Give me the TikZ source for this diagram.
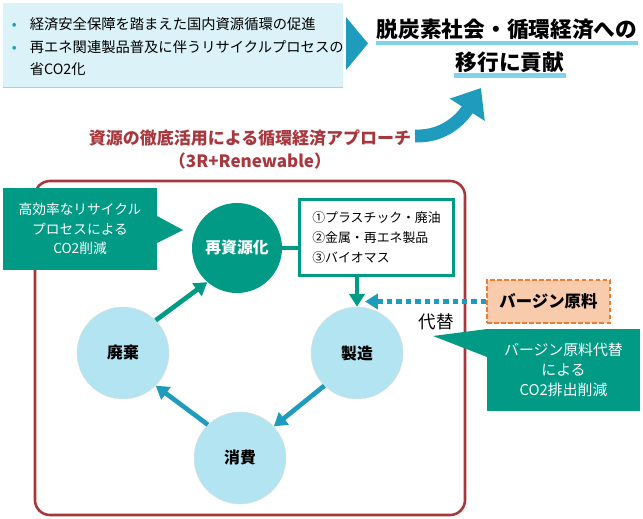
\documentclass[tikz,border=0pt]{standalone}
\usepackage{fontspec}
\setmainfont{Noto Sans CJK JP}
\usetikzlibrary{arrows.meta, positioning}
\definecolor{midori}{HTML}{009A85}
\definecolor{ao}{HTML}{1F9BBE}
\definecolor{mizu}{HTML}{B2E4F1}
\definecolor{usuao}{HTML}{DBF2F8}
\definecolor{aka}{HTML}{A8373D}
\definecolor{daidai}{HTML}{ED7D31}
\definecolor{usudaidai}{HTML}{F8CBAD}
\definecolor{sen}{HTML}{7FD4EB}

\begin{document}
\begin{tikzpicture}[x=0.03cm, y=-0.03cm,
      stage/.style={circle, fill=mizu, draw=gray!25, line width=0.4pt, minimum size=2.76cm,
                    inner sep=0pt, font=\fontsize{13.5pt}{15pt}\selectfont\bfseries},
      note/.style={fill=midori, text=white, align=center, inner sep=0pt,
                   minimum width=4.6cm, minimum height=2.46cm},
      arrow/.style={-{Triangle[length=11pt, width=13pt]}, line width=4pt},
      uline/.style={sen, line width=3.5pt} ]
    \useasboundingbox (0,0) rectangle (643,518);

    \node[fill=usuao, minimum width=10.2cm, minimum height=2.52cm] (topbox) at (173,45) {};
    \node[anchor=west, inner sep=0pt, align=left, font=\fontsize{12.2pt}{19.5pt}\selectfont]
      (topitems) at ([xshift=0.27cm, yshift=-0.05cm]topbox.west)
      {\makebox[1.25em][l]{\textcolor{ao}{•}}経済安全保障を踏まえた国内資源循環の促進\\
       \makebox[1.25em][l]{\textcolor{ao}{•}}再エネ関連製品普及に伴うリサイクルプロセスの\\
       \hspace*{1.25em}省CO2化};
    \draw[gray!45, line width=1pt] (topbox.south west) -- (topbox.south east);
    \fill[ao] (346,17) -- (368,43.5) -- (346,70) -- cycle;

    \node[font=\fontsize{18.5pt}{20pt}\selectfont\bfseries, inner sep=1pt] (goal) at (507,29) {脱炭素社会・循環経済への};
    \node[font=\fontsize{18.5pt}{20pt}\selectfont\bfseries, inner sep=1pt] (goal2) at (510,62) {移行に貢献};
    \draw[uline] ([yshift=-1.5pt]goal.south west) -- ([yshift=-1.5pt]goal.south east);
    \draw[uline] ([yshift=-1.5pt]goal2.south west) -- ([yshift=-1.5pt]goal2.south east);
    \draw[ao, line width=11pt, -{Triangle[length=22pt, width=34pt]}]
      (415,136) .. controls (445,137) and (462,118) .. (481,88);

    \node[text=aka, font=\fontsize{14.5pt}{16pt}\selectfont\bfseries] (approach) at (250,138) {資源の徹底活用による循環経済アプローチ};
    \node[text=aka, font=\fontsize{14.5pt}{16pt}\selectfont\bfseries] (approach2) at (250,161) {（3R+Renewable）};
    \node[draw=aka, line width=2.2pt, rounded corners=0.45cm, minimum width=12.9cm, minimum height=10.02cm] (frame) at (250,348) {};

    \node[note, minimum width=4.62cm, font=\fontsize{11.7pt}{16.5pt}\selectfont] (leftnote) at (80,229) {高効率なリサイクル\\プロセスによる\\CO2削減};
    \fill[midori] (157,216) -- (183,230) -- (157,243) -- cycle;

    \node[stage, fill=midori, draw=none, text=white, minimum size=2.7cm] (saishigen) at (237,248) {再資源化};
    \node[stage] (seizo) at (357,353) {製造};
    \node[stage] (haiki) at (123,353) {廃棄};
    \node[stage] (shohi) at (240,458) {消費};

    \node[draw=midori, line width=2.5pt, fill=white, minimum width=4.62cm, minimum height=2.28cm, align=left,
          font=\fontsize{11pt}{17pt}\selectfont] (sozai) at (376.5,237.5) {①プラスチック・廃油\\②金属・再エネ製品\\③バイオマス};
    \draw[midori, line width=3pt] (saishigen.east) -- (saishigen.east -| sozai.west);
    \draw[arrow, midori] (sozai.south -| seizo.north) -- (seizo.north);

    \node[draw=daidai, dash pattern=on 4pt off 2pt, fill=usudaidai, line width=1.5pt, minimum width=3.69cm,
          minimum height=1.29cm, font=\fontsize{14pt}{16pt}\selectfont\bfseries] (virgin) at (548.5,301.5) {バージン原料};
    \draw[ao, line width=4pt, dash pattern=on 4.5pt off 3.5pt, -{Triangle[length=11pt, width=13pt]}]
      (virgin.west) -- (virgin.west -| seizo.80);
    \node[font=\fontsize{15pt}{16pt}\selectfont] (daitai) at (436,322) {代替};

    \node[note, minimum width=4.59cm, font=\fontsize{12.7pt}{17pt}\selectfont] (rightnote) at (563.5,370) {バージン原料代替\\による\\CO2排出削減};
    \fill[midori] (487,329) -- (433,336) -- (487,357) -- cycle;

    \draw[arrow, midori] (haiki.45) -- (saishigen.229);
    \draw[arrow, ao] (seizo.225) -- (shohi.43);
    \draw[arrow, ao] (shohi.134) -- (haiki.315);
  \end{tikzpicture}
\end{document}
